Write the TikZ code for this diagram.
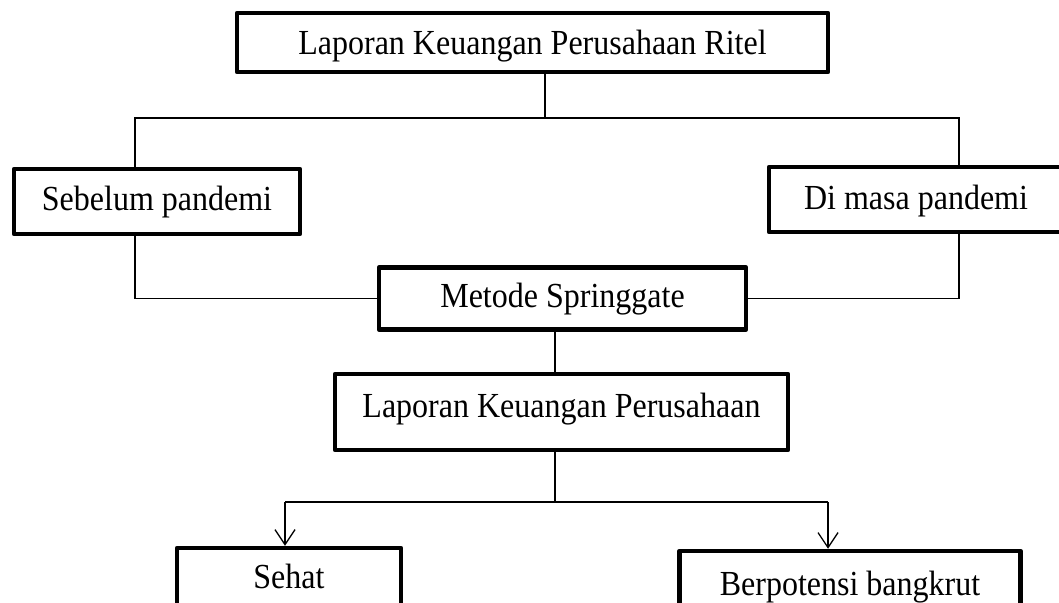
\documentclass[tikz,border=0pt]{standalone}
\usepackage{fontspec}
\setmainfont{Liberation Serif}
\usepackage{graphicx}
\usetikzlibrary{arrows.meta}
\newcommand{\stx}[1]{\scalebox{1}[1.1]{#1}}
\begin{document}
\begin{tikzpicture}[x=1pt,y=-1pt,
  box/.style={draw, line width=4.5pt, line join=round, inner sep=0pt,
    font=\fontsize{32}{38}\selectfont, text depth=0pt},
  conn/.style={draw, line width=1.3pt},
  arr/.style={conn, -{Straight Barb[length=15pt,width=20pt,line width=1.3pt]}}]
\useasboundingbox (0,0) rectangle (1059,602);
\clip (0,0) rectangle (1059,602);
\node[box, minimum width=591pt, minimum height=59pt, text height=24pt] (top) at (532.5,42.5) {\stx{Laporan Keuangan Perusahaan Ritel}};
\node[box, minimum width=286pt, minimum height=65pt, text height=18pt] (sebelum) at (157,201.5) {\stx{Sebelum pandemi}};
\node[box, minimum width=294pt, minimum height=65pt, text height=20pt] (dimasa) at (916,199.5) {\stx{Di masa pandemi}};
\node[box, minimum width=367pt, minimum height=62pt, text height=18pt] (metode) at (562.5,298.5) {\stx{Metode Springgate}};
\node[box, minimum width=453pt, minimum height=76pt, text height=10pt] (lkp) at (561.5,412) {\stx{Laporan Keuangan Perusahaan}};
\node[box, minimum width=224pt, minimum height=70pt, text height=10pt] (sehat) at (289,583) {\stx{Sehat}};
\node[box, minimum width=341pt, minimum height=70pt, text height=18pt] (berp) at (850,586) {\stx{Berpotensi bangkrut}};
\coordinate (jt) at (545,118);
\coordinate (jl) at (135,118);
\coordinate (jr) at (959,118);
\coordinate (jm) at (555,0);
\coordinate (jb) at (555,502);
\coordinate (bl) at (285,502);
\coordinate (br) at (828,502);
\draw[conn] (top.south -| jt) -- (jt);
\draw[conn] (sebelum.north -| jl) -- (jl) -- (jr) -- (dimasa.north -| jr);
\draw[conn] (sebelum.south -| jl) |- (metode.west);
\draw[conn] (dimasa.south -| jr) |- (metode.east);
\draw[conn] (metode.south -| jm) -- (lkp.north -| jm);
\draw[conn] (lkp.south -| jb) -- (jb);
\draw[conn] (bl) -- (br);
\draw[arr] (bl) -- (sehat.north -| bl);
\draw[arr] (br) -- (berp.north -| br);
\end{tikzpicture}
\end{document}
